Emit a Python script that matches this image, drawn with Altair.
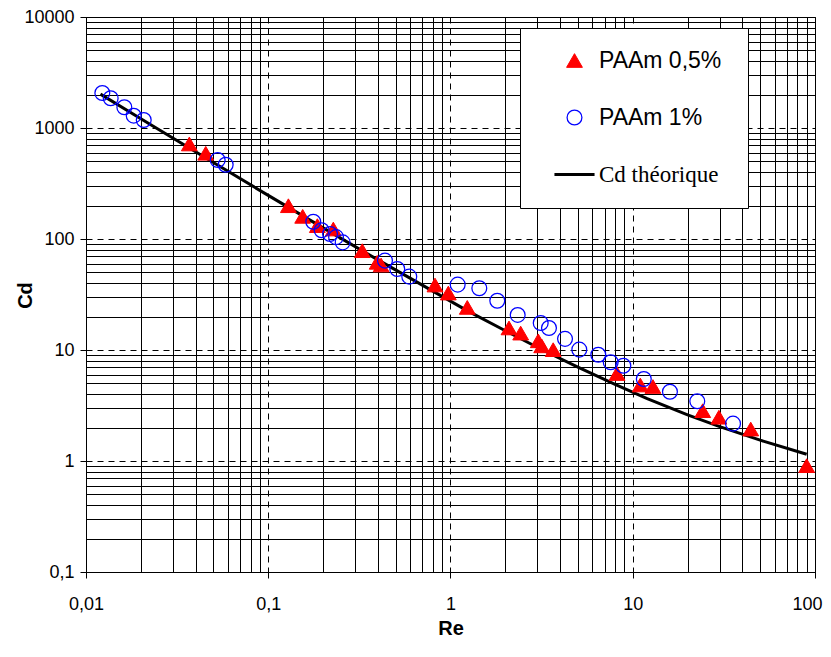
import altair as alt
import pandas as pd

# PAAm 0,5% (triangles)
re_05 = [0.0369, 0.0454, 0.129, 0.1545, 0.186, 0.2275, 0.328, 0.396, 0.416, 0.822, 0.973,
         1.236, 2.094, 2.427, 3.03, 3.165, 3.66, 8.2, 11.0, 12.9, 24.2, 29.7, 44.4, 90.0]
cd_05 = [718, 592, 199.5, 160, 132, 123, 78.5, 61.7, 58.3, 38.5, 32.6,
         24.2, 15.8, 14.2, 12.1, 10.9, 10.07, 6.14, 4.84, 4.69, 2.84, 2.48, 1.94, 0.908]

# PAAm 1% (hollow circles)
re_1 = [0.01229, 0.01366, 0.01623, 0.01827, 0.02074, 0.0528, 0.0584, 0.1766, 0.1963, 0.2183,
        0.2355, 0.256, 0.437, 0.5105, 0.594, 1.095, 1.439, 1.806, 2.337, 3.126, 3.47, 4.25,
        5.09, 6.47, 7.57, 8.88, 11.5, 16.0, 22.6, 35.5]
cd_1 = [2066, 1853, 1536, 1291, 1181, 515, 467, 143, 120, 111,
        104, 93.3, 63.8, 53.7, 45.8, 38.8, 36.0, 27.8, 20.7, 17.5, 15.8, 12.6,
        10.07, 9.07, 7.75, 7.22, 5.48, 4.21, 3.45, 2.17]

# theoretical Cd curve
re_th = [0.012, 0.02, 0.05, 0.1, 0.2, 0.4, 0.8, 1.24, 2, 3.2, 5, 8, 12, 20, 30, 50, 90]
cd_th = [2020, 1210, 488, 247, 126, 64.8, 33.9, 22.5, 14.9, 10.0, 7.0, 4.9, 3.65, 2.6, 2.04, 1.54, 1.15]

series_names = ["PAAm 0,5%", "PAAm 1%", "Cd théorique"]

x_ticks = [m * 10.0 ** e for e in range(-2, 2) for m in range(1, 10)] + [100.0]
y_ticks = [m * 10.0 ** e for e in range(-1, 4) for m in range(1, 10)] + [10000.0]

pts = pd.DataFrame({
    "Re": re_05 + re_1,
    "Cd": cd_05 + cd_1,
    "series": [series_names[0]] * len(re_05) + [series_names[1]] * len(re_1),
})
th = pd.DataFrame({"Re": re_th, "Cd": cd_th, "series": series_names[2]})

is_major = "abs(log(datum.value)/LN10 - round(log(datum.value)/LN10)) < 1e-6"
label_expr = f"({is_major}) ? replace(datum.label, '.', ',') : ''"

line_name = series_names[2]
legend = alt.Legend(
    title=".", titleOrient="right", titleOpacity=0, titleFontSize=10, titlePadding=3,
    orient="none", legendX=434, legendY=11,
    fillColor="white", strokeColor="black", padding=21,
    symbolOffset=22, labelOffset=13, rowPadding=33,
    symbolSize=200,
    symbolStrokeWidth=alt.ExprRef(f"datum.value === '{line_name}' ? 1 : (datum.value === 'PAAm 1%' ? 1.5 : 1)"),
    labelFont=alt.ExprRef(f"datum.value === '{line_name}' ? 'Liberation Serif' : 'Liberation Sans'"),
    labelFontSize=23, labelColor="black",
)

xenc = alt.X("Re:Q", scale=alt.Scale(type="log", domain=[0.01, 100]),
             axis=alt.Axis(values=x_ticks, title="Re", format="~g", labelExpr=label_expr,
                           labelOverlap=False, labelFlush=False,
                           labelOffset={"condition": {"test": "datum.value > 99", "value": -8}, "value": 0},
                           gridDash={"condition": {"test": is_major, "value": [6, 5]}, "value": []},
                           tickOpacity={"condition": {"test": is_major, "value": 1}, "value": 0},
                           labelPadding=17, titlePadding=5))
yenc = alt.Y("Cd:Q", scale=alt.Scale(type="log", domain=[0.1, 10000]),
             axis=alt.Axis(values=y_ticks, title="Cd", format="~g", labelExpr=label_expr,
                           labelOverlap=False, labelFlush=False,
                           gridDash={"condition": {"test": is_major, "value": [6, 5]}, "value": []},
                           tickOpacity={"condition": {"test": is_major, "value": 1}, "value": 0},
                           labelPadding=6, titleX=-51, titleY=278))

line_symbol = "M-2.8,-0.12H2.8V0.12H-2.8Z"
shape = alt.Shape("series:N", scale=alt.Scale(domain=series_names, range=["triangle-up", "circle", line_symbol]), legend=legend)
fill = alt.Fill("series:N", scale=alt.Scale(domain=series_names, range=["#ff0000", "transparent", "black"]), legend=legend)
stroke = alt.Stroke("series:N", scale=alt.Scale(domain=series_names, range=["#ff0000", "#0000ff", "black"]), legend=legend)
size = alt.Size("series:N", scale=alt.Scale(domain=series_names, range=[250, 190, 1600]), legend=None)
sw = alt.StrokeWidth("series:N", scale=alt.Scale(domain=series_names, range=[1, 1.5, 3]), legend=None)

line = alt.Chart(th).mark_line(strokeWidth=3).encode(x=xenc, y=yenc, stroke=stroke)
points = alt.Chart(pts).mark_point(opacity=1).encode(
    x=xenc, y=yenc, shape=shape, fill=fill, stroke=stroke, size=size, strokeWidth=sw)

chart = alt.layer(line, points).properties(
    width=729, height=555,
    padding={"left": 7, "top": 0, "right": 0, "bottom": 0},
).configure_view(stroke="black", strokeWidth=1).configure_axis(
    gridColor="black", gridWidth=1, gridOpacity=1,
    domainColor="black", tickColor="black", tickSize=6,
    labelFont="Liberation Sans", labelFontSize=18, labelColor="black",
    titleFont="Liberation Sans", titleFontSize=20, titleFontWeight="bold", titleColor="black",
)

chart.save("out.html", embed_options={"renderer": "svg", "actions": False})
